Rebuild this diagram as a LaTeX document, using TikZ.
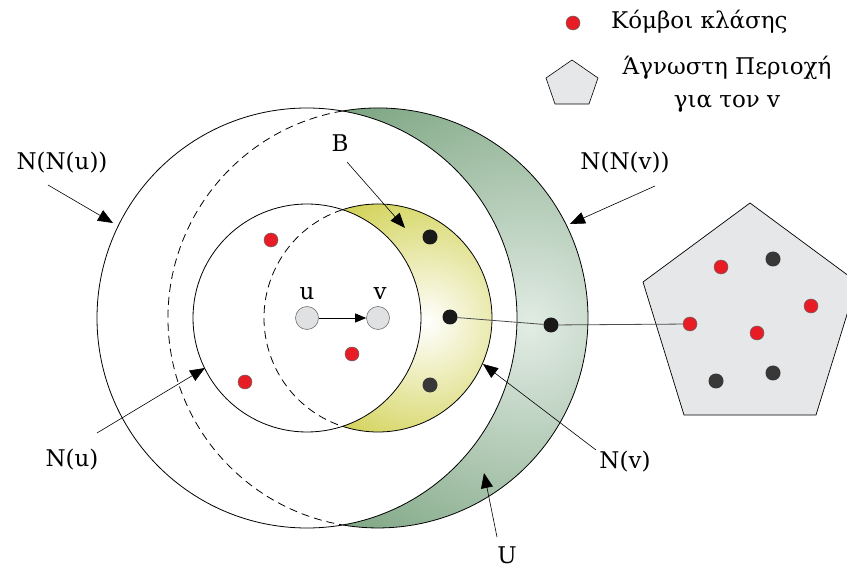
\documentclass[tikz,border=0pt]{standalone}
\usepackage{fontspec}
\setmainfont{DejaVu Serif}
\usepackage{xcolor}
\usetikzlibrary{arrows.meta,calc}
\definecolor{clsred}{RGB}{232,28,36}
\definecolor{nodegray}{RGB}{224,225,227}
\definecolor{regiongray}{RGB}{230,231,232}
\definecolor{ugreen}{RGB}{106,152,112}
\definecolor{ulight}{RGB}{226,236,228}
\definecolor{byellow}{RGB}{206,206,72}
\tikzset{
  cls dot/.style={
    circle,
    inner sep=0pt,
    minimum size=14pt,
    fill=clsred,
    draw=black!60,
    line width=0.5pt,
  },
  blk dot/.style={
    circle,
    inner sep=0pt,
    minimum size=15pt,
    fill=black!90,
  },
  gry dot/.style={blk dot, fill=black!78},
  end node/.style={
    circle,
    inner sep=0pt,
    minimum size=23pt,
    fill=nodegray,
    draw=black!55,
    line width=0.6pt,
  },
  lbl/.style={font=\fontsize{23}{33}\selectfont, inner sep=1pt},
  lbl arrow/.style={-{Triangle[length=15pt,width=12pt]}, line width=0.6pt},
  edge line/.style={line width=0.8pt, black!70},
  ring/.style={line width=0.8pt},
}

\begin{document}
\begin{tikzpicture}[x=1pt,y=1pt]
  \useasboundingbox (0,0) rectangle (847,-572);

  % shaded regions U and B
  \begin{scope}
    \clip (342.5,-111) arc[start angle=99.73, end angle=-99.73, radius=210]
      arc[start angle=-80.27, end angle=80.27, radius=210] -- cycle;
    \shade[inner color=ulight, outer color=ugreen] (528,-325) circle (330);
  \end{scope}
  \begin{scope}
    \clip (342.5,-209.67) arc[start angle=108.14, end angle=-108.14, radius=114]
      arc[start angle=-71.86, end angle=71.86, radius=114] -- cycle;
    \shade[inner color=white, outer color=byellow] (426,-322) circle (150);
  \end{scope}

  % neighbourhoods
  \coordinate (cu) at (307,-318);
  \coordinate (cv) at (378,-318);
  \draw[ring] (cu) circle (114);
  \draw[ring] (cu) circle (210);
  \draw[ring] (342.5,-111) arc[start angle=99.73, end angle=-99.73, radius=210];
  \draw[ring] (342.5,-209.67) arc[start angle=108.14, end angle=-108.14, radius=114];
  \draw[ring, dash pattern=on 8pt off 5pt] (342.5,-111) arc[start angle=99.73, end angle=260.27, radius=210];
  \draw[ring, dash pattern=on 8pt off 5pt] (342.5,-209.67) arc[start angle=108.14, end angle=251.86, radius=114];

  % unknown region
  \draw[line width=0.7pt, fill=regiongray] (750,-203) -- (643,-282) -- (684,-415)
    -- (816,-415) -- (857,-282) -- cycle;

  % nodes
  \node[end node] (u) at (cu) {};
  \node[end node] (v) at (cv) {};
  \node[lbl] at (307,-294) {u};
  \node[lbl] at (380,-294) {v};

  \node[cls dot] (r1) at (271,-240) {};
  \node[cls dot] (r2) at (352,-354) {};
  \node[cls dot] (r3) at (245,-382) {};

  \node[blk dot] (b1) at (430,-237) {};
  \node[blk dot] (b2) at (450,-317) {};
  \node[gry dot] (b3) at (430,-385) {};
  \node[blk dot] (w1) at (551,-325) {};

  \node[cls dot] (p1) at (721,-267) {};
  \node[gry dot] (p2) at (773,-259) {};
  \node[cls dot] (p3) at (811,-306) {};
  \node[cls dot] (p4) at (690,-324) {};
  \node[cls dot] (p5) at (757,-333) {};
  \node[gry dot] (p6) at (716,-381) {};
  \node[gry dot] (p7) at (773,-373) {};

  \draw[-{Triangle[length=11pt,width=9pt]}, line width=0.6pt] (u) -- (v);
  \draw[edge line] (b2) -- (w1);
  \draw[edge line] (w1) -- (p4);

  % labels
  \node[lbl] (nnu) at (62,-163) {N(N(u))};
  \node[lbl] (nnv) at (625,-163) {N(N(v))};
  \node[lbl] (blbl) at (340,-143) {B};
  \node[lbl] (nu) at (72,-460) {N(u)};
  \node[lbl] (nv) at (625,-462) {N(v)};
  \node[lbl] (ulbl) at (507,-555) {U};

  \draw[lbl arrow] ($(nnu)+(-14,-22)$) -- (113,-223);
  \draw[lbl arrow] ($(nnv)+(30,-23)$) -- (570,-224);
  \draw[lbl arrow] ($(blbl)+(7,-19)$) -- (405,-228);
  \draw[lbl arrow] ($(nu)+(25,27)$) -- (205,-368);
  \draw[lbl arrow] ($(nv)+(-29,12)$) -- (483,-364);
  \draw[lbl arrow] ($(ulbl)+(-10,18)$) -- (484,-473);

  % legend
  \node[cls dot] (leg dot) at (573,-23) {};
  \node[lbl, anchor=west] (leg cls) at (610,-22) {Κόμβοι κλάσης};
  \draw[line width=0.6pt, fill=regiongray] (572,-60) -- (546,-78) -- (555,-104)
    -- (589,-104) -- (598,-78) -- cycle;
  \node[lbl, align=center] (leg reg) at (727,-84) {Άγνωστη Περιοχή\\για τον v};
\end{tikzpicture}
\end{document}
